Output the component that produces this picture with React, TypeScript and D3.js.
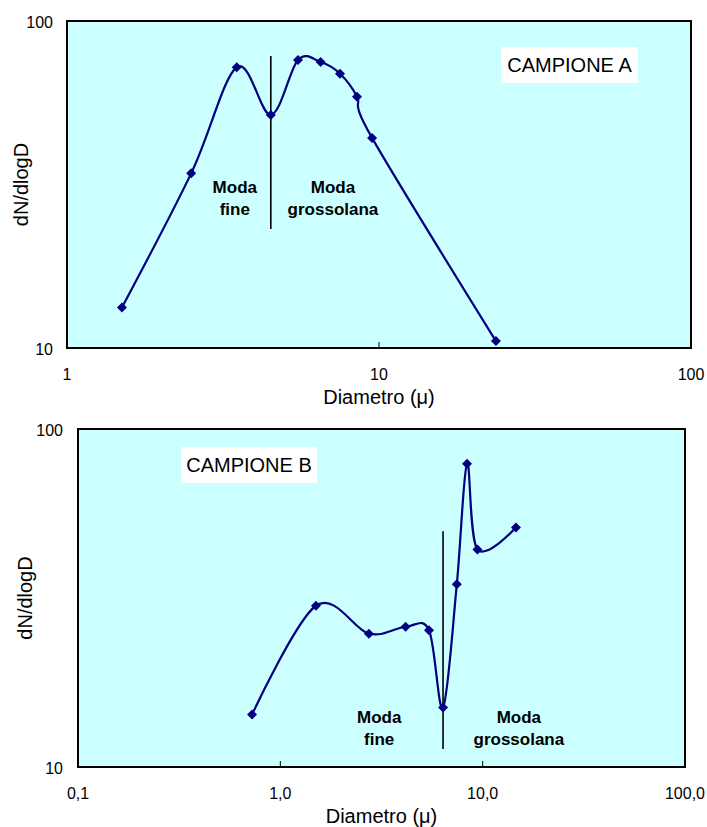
import * as d3 from 'd3';

// Campione A
const diamA = [1.5, 2.5, 3.5, 4.5, 5.5, 6.5, 7.5, 8.5, 9.5, 23.7];
const valA = [13.3, 34.2, 72.2, 51.6, 76, 74.9, 69, 58.7, 43.9, 10.5];
const sepA = [4.5, 23.1, 78.2]; // x, y bottom, y top
const xTicksA = [1, 10, 100];
const xLabelsA = ['1', '10', '100'];

// Campione B
const diamB = [0.725, 1.5, 2.74, 4.16, 5.43, 6.37, 7.45, 8.37, 9.42, 14.6];
const valB = [14.3, 30.0, 24.8, 26.0, 25.4, 15.0, 34.7, 78.9, 44.0, 51.1];
const sepB = [6.37, 11.3, 49.8];
const xTicksB = [0.1, 1, 10, 100];
const xLabelsB = ['0,1', '1,0', '10,0', '100,0'];

const yTicks = [10, 100];
const yLabels = ['10', '100'];

const FONT = '"Liberation Sans", Arial, sans-serif';
const NAVY = '#000080';

interface PanelProps {
  left: number;
  right: number;
  top: number;
  bottom: number;
  xDomain: [number, number];
  xs: number[];
  ys: number[];
  sep: number[];
  xTicks: number[];
  xLabels: string[];
  title: string;
  titleBox: { x: number; y: number; w: number; h: number };
  fineX: number;
  grossX: number;
  modaY: number;
  yTitleX: number;
  yLabelRight: number;
}

function Panel(p: PanelProps) {
  const x = d3.scaleLog().domain(p.xDomain).range([p.left, p.right]);
  const y = d3.scaleLog().domain([10, 100]).range([p.bottom, p.top]);
  const pts = p.xs.map((d, i) => [d, p.ys[i]] as [number, number]);
  const line = d3
    .line<[number, number]>()
    .x((d) => x(d[0]))
    .y((d) => y(d[1]))
    .curve(d3.curveCardinal.tension(0));
  const r = 5;
  const diamond = `M0,${-r}L${r},0L0,${r}L${-r},0Z`;
  const midY = (p.top + p.bottom) / 2;

  return (
    <g>
      <rect
        x={p.left}
        y={p.top}
        width={p.right - p.left}
        height={p.bottom - p.top}
        fill="#CCFFFF"
        stroke="#000"
        strokeWidth={2}
      />
      {p.xTicks.slice(1, -1).map((t) => (
        <line key={t} x1={x(t)} x2={x(t)} y1={p.bottom} y2={p.bottom - 6} stroke="#000" strokeWidth={1} />
      ))}
      {p.xTicks.map((t, i) => (
        <text
          key={t}
          x={x(t)}
          y={p.bottom + 32}
          textAnchor="middle"
          fontSize={16}
          fontFamily={FONT}
        >
          {p.xLabels[i]}
        </text>
      ))}
      {yTicks.map((t, i) => (
        <text
          key={t}
          x={p.yLabelRight}
          y={y(t) + 7}
          textAnchor="end"
          fontSize={16}
          fontFamily={FONT}
        >
          {yLabels[i]}
        </text>
      ))}
      <text
        x={(p.left + p.right) / 2}
        y={p.bottom + 56}
        textAnchor="middle"
        fontSize={20}
        fontFamily={FONT}
      >
        Diametro (μ)
      </text>
      <text
        transform={`translate(${p.yTitleX},${midY}) rotate(-90)`}
        textAnchor="middle"
        fontSize={20}
        fontFamily={FONT}
      >
        dN/dlogD
      </text>
      <rect x={p.titleBox.x} y={p.titleBox.y} width={p.titleBox.w} height={p.titleBox.h} fill="#fff" />
      <text
        x={p.titleBox.x + p.titleBox.w / 2}
        y={p.titleBox.y + p.titleBox.h / 2 + 7}
        textAnchor="middle"
        fontSize={20}
        fontFamily={FONT}
      >
        {p.title}
      </text>
      <line
        x1={x(p.sep[0])}
        x2={x(p.sep[0])}
        y1={y(p.sep[1])}
        y2={y(p.sep[2])}
        stroke="#000"
        strokeWidth={1.6}
      />
      <g fontFamily={FONT} fontWeight="bold" fontSize={17} textAnchor="middle">
        <text x={x(p.fineX)} y={y(p.modaY)}>Moda</text>
        <text x={x(p.fineX)} y={y(p.modaY) + 22}>fine</text>
        <text x={x(p.grossX)} y={y(p.modaY)}>Moda</text>
        <text x={x(p.grossX)} y={y(p.modaY) + 22}>grossolana</text>
      </g>
      <path d={line(pts) ?? ''} fill="none" stroke={NAVY} strokeWidth={2.2} />
      {pts.map((d, i) => (
        <path key={i} d={diamond} transform={`translate(${x(d[0])},${y(d[1])})`} fill={NAVY} />
      ))}
    </g>
  );
}

export default function App() {
  return (
    <svg
      width={707}
      height={827}
      style={{ position: 'absolute', left: 0, top: 0, background: '#fff' }}
    >
      <Panel
        left={67}
        right={691}
        top={21}
        bottom={348}
        xDomain={[1, 100]}
        xs={diamA}
        ys={valA}
        sep={sepA}
        xTicks={xTicksA}
        xLabels={xLabelsA}
        title="CAMPIONE A"
        titleBox={{ x: 501, y: 47, w: 137, h: 36 }}
        fineX={3.45}
        grossX={7.12}
        modaY={29.8}
        yTitleX={28}
        yLabelRight={53}
      />
      <Panel
        left={78}
        right={685}
        top={429}
        bottom={767}
        xDomain={[0.1, 100]}
        xs={diamB}
        ys={valB}
        sep={sepB}
        xTicks={xTicksB}
        xLabels={xLabelsB}
        title="CAMPIONE B"
        titleBox={{ x: 181, y: 447, w: 136, h: 36 }}
        fineX={3.08}
        grossX={15.1}
        modaY={13.5}
        yTitleX={32}
        yLabelRight={63}
      />
    </svg>
  );
}
